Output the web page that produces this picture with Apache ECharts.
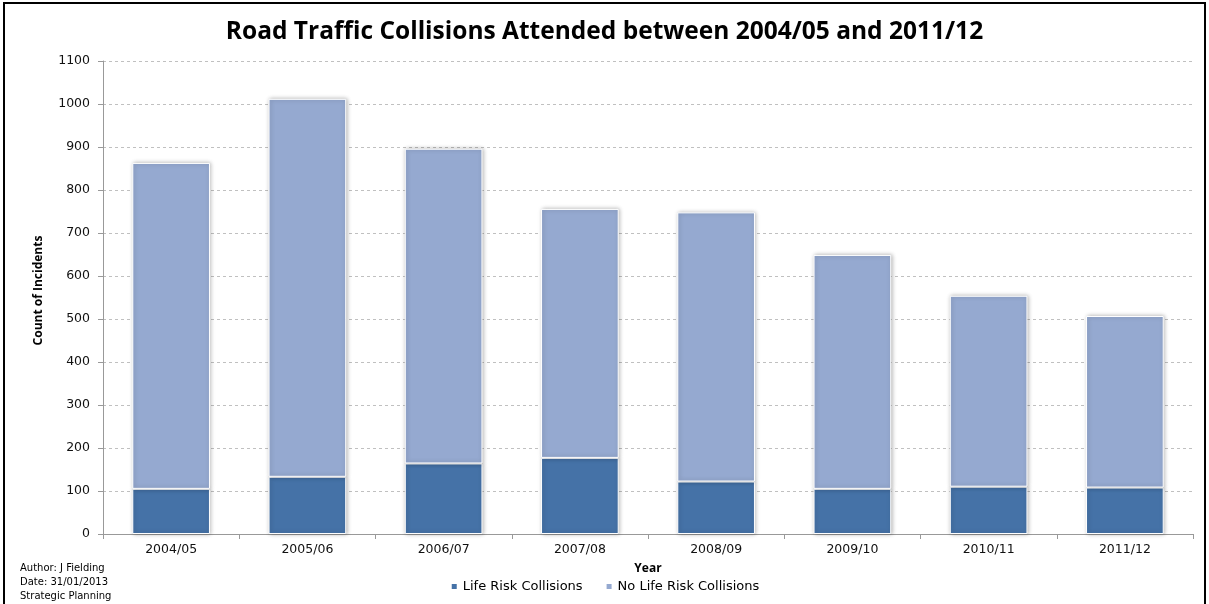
<!DOCTYPE html>
<html>
<head>
<meta charset="utf-8">
<script src="https://cdn.jsdelivr.net/npm/echarts@6/dist/echarts.min.js"></script>
<style>
  html, body { margin: 0; padding: 0; background: #fff; }
  #chart { width: 1209px; height: 604px; }
</style>
</head>
<body>
<div id="chart"></div>
<script>
// Financial years shown on the category axis
const years = ['2004/05', '2005/06', '2006/07', '2007/08', '2008/09', '2009/10', '2010/11', '2011/12'];
// Collisions where life was at risk (bottom segment)
const lifeRisk = [105, 133, 164, 177, 122, 105, 110, 108];
// Collisions with no life risk (top segment)
const noLifeRisk = [758, 879, 732, 579, 626, 544, 444, 399];
// Value axis ticks
const yTicks = { min: 0, max: 1100, interval: 100 };

const chart = echarts.init(document.getElementById('chart'), null, { renderer: 'canvas' });

const barStyle = (color) => ({
  color: color,
  borderColor: '#ffffff',
  borderWidth: 1,
  shadowBlur: 4,
  shadowColor: 'rgba(0,0,0,0.28)',
  shadowOffsetX: 1
});

chart.setOption({
  animation: false,
  backgroundColor: '#ffffff',
  title: {
    text: 'Road Traffic Collisions Attended between 2004/05 and 2011/12',
    left: 'center',
    top: 15,
    textStyle: { fontFamily: 'Open Sans', fontWeight: 'bold', fontSize: 24.5, color: '#000' }
  },
  legend: {
    top: 575,
    left: 'center',
    itemWidth: 7,
    itemHeight: 7,
    itemGap: 22,
    icon: 'rect',
    textStyle: { fontFamily: 'DejaVu Sans', fontSize: 13, color: '#000' },
    data: ['Life Risk Collisions', 'No Life Risk Collisions']
  },
  grid: { left: 103, right: 16, top: 61, bottom: 70, containLabel: false },
  xAxis: {
    type: 'category',
    data: years,
    name: 'Year',
    nameLocation: 'middle',
    nameGap: 29,
    nameTextStyle: { fontFamily: 'Open Sans', fontWeight: 'bold', fontSize: 12, color: '#000' },
    axisLine: { lineStyle: { color: '#999999' } },
    axisTick: { show: true, length: 5, lineStyle: { color: '#999999' } },
    axisLabel: { fontFamily: 'DejaVu Sans', fontSize: 12.5, color: '#111', margin: 9 }
  },
  yAxis: {
    type: 'value',
    min: yTicks.min,
    max: yTicks.max,
    interval: yTicks.interval,
    name: 'Count of Incidents',
    nameLocation: 'middle',
    nameGap: 58,
    nameRotate: 90,
    nameTextStyle: { fontFamily: 'Open Sans', fontWeight: 'bold', fontSize: 12, color: '#000', padding: [0, 0, 0, 14] },
    axisLine: { show: true, lineStyle: { color: '#999999' } },
    axisTick: { show: true, length: 5, lineStyle: { color: '#999999' } },
    axisLabel: { fontFamily: 'DejaVu Sans', fontSize: 12.5, color: '#111', margin: 13, formatter: (v) => String(v) },
    splitLine: { show: true, lineStyle: { color: '#c0c0c0', type: [3, 3] } }
  },
  series: [
    {
      name: 'Life Risk Collisions',
      type: 'bar',
      stack: 'total',
      barWidth: '57%',
      data: lifeRisk,
      itemStyle: barStyle('#4572a7')
    },
    {
      name: 'No Life Risk Collisions',
      type: 'bar',
      stack: 'total',
      barWidth: '57%',
      data: noLifeRisk,
      itemStyle: barStyle('#95a9d0')
    }
  ],
  graphic: [
    {
      type: 'rect',
      shape: { x: 4, y: 3, width: 1201, height: 620 },
      style: { fill: 'none', stroke: '#000', lineWidth: 2 },
      silent: true
    },
    {
      type: 'text',
      left: 20,
      top: 561,
      style: {
        text: 'Author: J Fielding\nDate: 31/01/2013\nStrategic Planning',
        fontFamily: 'DejaVu Sans',
        fontSize: 10,
        lineHeight: 14,
        fill: '#000'
      }
    }
  ]
});
</script>
</body>
</html>
